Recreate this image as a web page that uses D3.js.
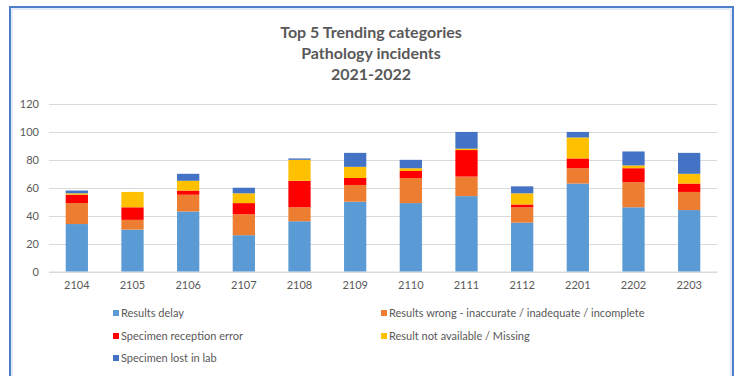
<!DOCTYPE html>
<html>
<head>
<meta charset="utf-8">
<script src="https://cdn.jsdelivr.net/npm/d3@7"></script>
<style>
  html, body { margin: 0; padding: 0; background: #fff; }
  svg { display: block; font-family: Lato, "Open Sans", sans-serif; }
</style>
</head>
<body>
<div id="chart"></div>
<script>
// chart data
const months = ['2104','2105','2106','2107','2108','2109','2110','2111','2112','2201','2202','2203'];
const seriesNames = [
  'Results delay',
  'Results wrong - inaccurate / inadequate / incomplete',
  'Specimen reception error',
  'Result not available / Missing',
  'Specimen lost in lab'
];
const resultsDelay   = [34, 30, 43, 26, 36, 50, 49, 54, 35, 63, 46, 44];
const resultsWrong   = [15,  7, 12, 15, 10, 12, 18, 14, 11, 11, 18, 13];
const receptionError = [ 6,  9,  3,  8, 19,  5,  5, 19,  2,  7, 10,  6];
const notAvailable   = [ 1, 11,  7,  7, 15,  8,  2,  1,  8, 15,  2,  7];
const lostInLab      = [ 2,  0,  5,  4,  1, 10,  6, 12,  5,  4, 10, 15];
const yTicks = [0, 20, 40, 60, 80, 100, 120];
const titleLines = ['Top 5 Trending categories', 'Pathology incidents', '2021-2022'];

const colors = ['#5b9bd5', '#ed7d31', '#ff0000', '#ffc000', '#4472c4'];

const W = 737, H = 376;
const margin = {top: 104, right: 20, bottom: 105, left: 49};

const svg = d3.select('#chart').append('svg')
  .attr('width', W).attr('height', H);

// frame (open at the bottom, like the cropped screenshot)
const frame = svg.append('g');
frame.append('path')
  .attr('d', `M10,${H} V7 H733 V${H}`)
  .attr('fill', 'none').attr('stroke', '#4f7fc8').attr('stroke-width', 2);
frame.append('path')
  .attr('d', `M12,${H} V9 H731 V${H}`)
  .attr('fill', 'none').attr('stroke', '#c9d8ee').attr('stroke-width', 1);

// title
svg.append('g').selectAll('text').data(titleLines).join('text')
  .attr('x', 371)
  .attr('y', (d, i) => 38 + i * 21)
  .attr('text-anchor', 'middle')
  .attr('font-size', 16)
  .attr('font-weight', 'bold')
  .attr('fill', '#595959')
  .text(d => d);

const y0 = 271.5, yTop = 104;

const x = d3.scaleBand().domain(months).range([margin.left, 717]).paddingInner(0.6).paddingOuter(0.3);
const y = d3.scaleLinear().domain([0, 120]).range([y0, yTop]);

// gridlines
svg.append('g').selectAll('line').data(yTicks).join('line')
  .attr('x1', margin.left).attr('x2', 717)
  .attr('y1', d => Math.round(y(d)) + 0.5).attr('y2', d => Math.round(y(d)) + 0.5)
  .attr('stroke', '#d9d9d9').attr('stroke-width', 1);

// y axis labels
const yAxis = svg.append('g')
  .attr('transform', `translate(${margin.left - 10},0)`)
  .call(d3.axisLeft(y).tickValues(yTicks).tickSize(0).tickPadding(0));
yAxis.select('.domain').remove();
yAxis.selectAll('text').attr('font-size', 11).attr('fill', '#595959')
  .attr('font-family', 'Lato, sans-serif');

// x axis labels
const xAxis = svg.append('g')
  .attr('transform', `translate(0,${y0})`)
  .call(d3.axisBottom(x).tickSize(0).tickPadding(10));
xAxis.select('.domain').attr('stroke', '#d9d9d9');
xAxis.selectAll('text').attr('font-size', 11).attr('fill', '#595959')
  .attr('font-family', 'Lato, sans-serif');

// stacked bars
const allSeries = [resultsDelay, resultsWrong, receptionError, notAvailable, lostInLab];
const rows = months.map((m, i) => {
  const r = {month: m};
  seriesNames.forEach((n, k) => r[n] = allSeries[k][i]);
  return r;
});
const stacked = d3.stack().keys(seriesNames)(rows);

svg.append('g').selectAll('g').data(stacked).join('g')
  .attr('fill', (d, i) => colors[i])
  .selectAll('rect').data(d => d).join('rect')
  .attr('x', d => x(d.data.month))
  .attr('width', x.bandwidth())
  .attr('y', d => y(d[1]))
  .attr('height', d => Math.max(0, y(d[0]) - y(d[1])));

// legend
const legendPos = [[113, 313], [381, 313], [113, 336], [381, 336], [113, 358]];
const lg = svg.append('g').selectAll('g').data(seriesNames).join('g')
  .attr('transform', (d, i) => `translate(${legendPos[i][0]},${legendPos[i][1]})`);
lg.append('rect').attr('x', 0).attr('y', -3).attr('width', 6).attr('height', 6)
  .attr('fill', (d, i) => colors[i]);
lg.append('text').attr('x', 8).attr('y', 4)
  .attr('font-size', 11).attr('fill', '#595959')
  .text(d => d);
</script>
</body>
</html>
